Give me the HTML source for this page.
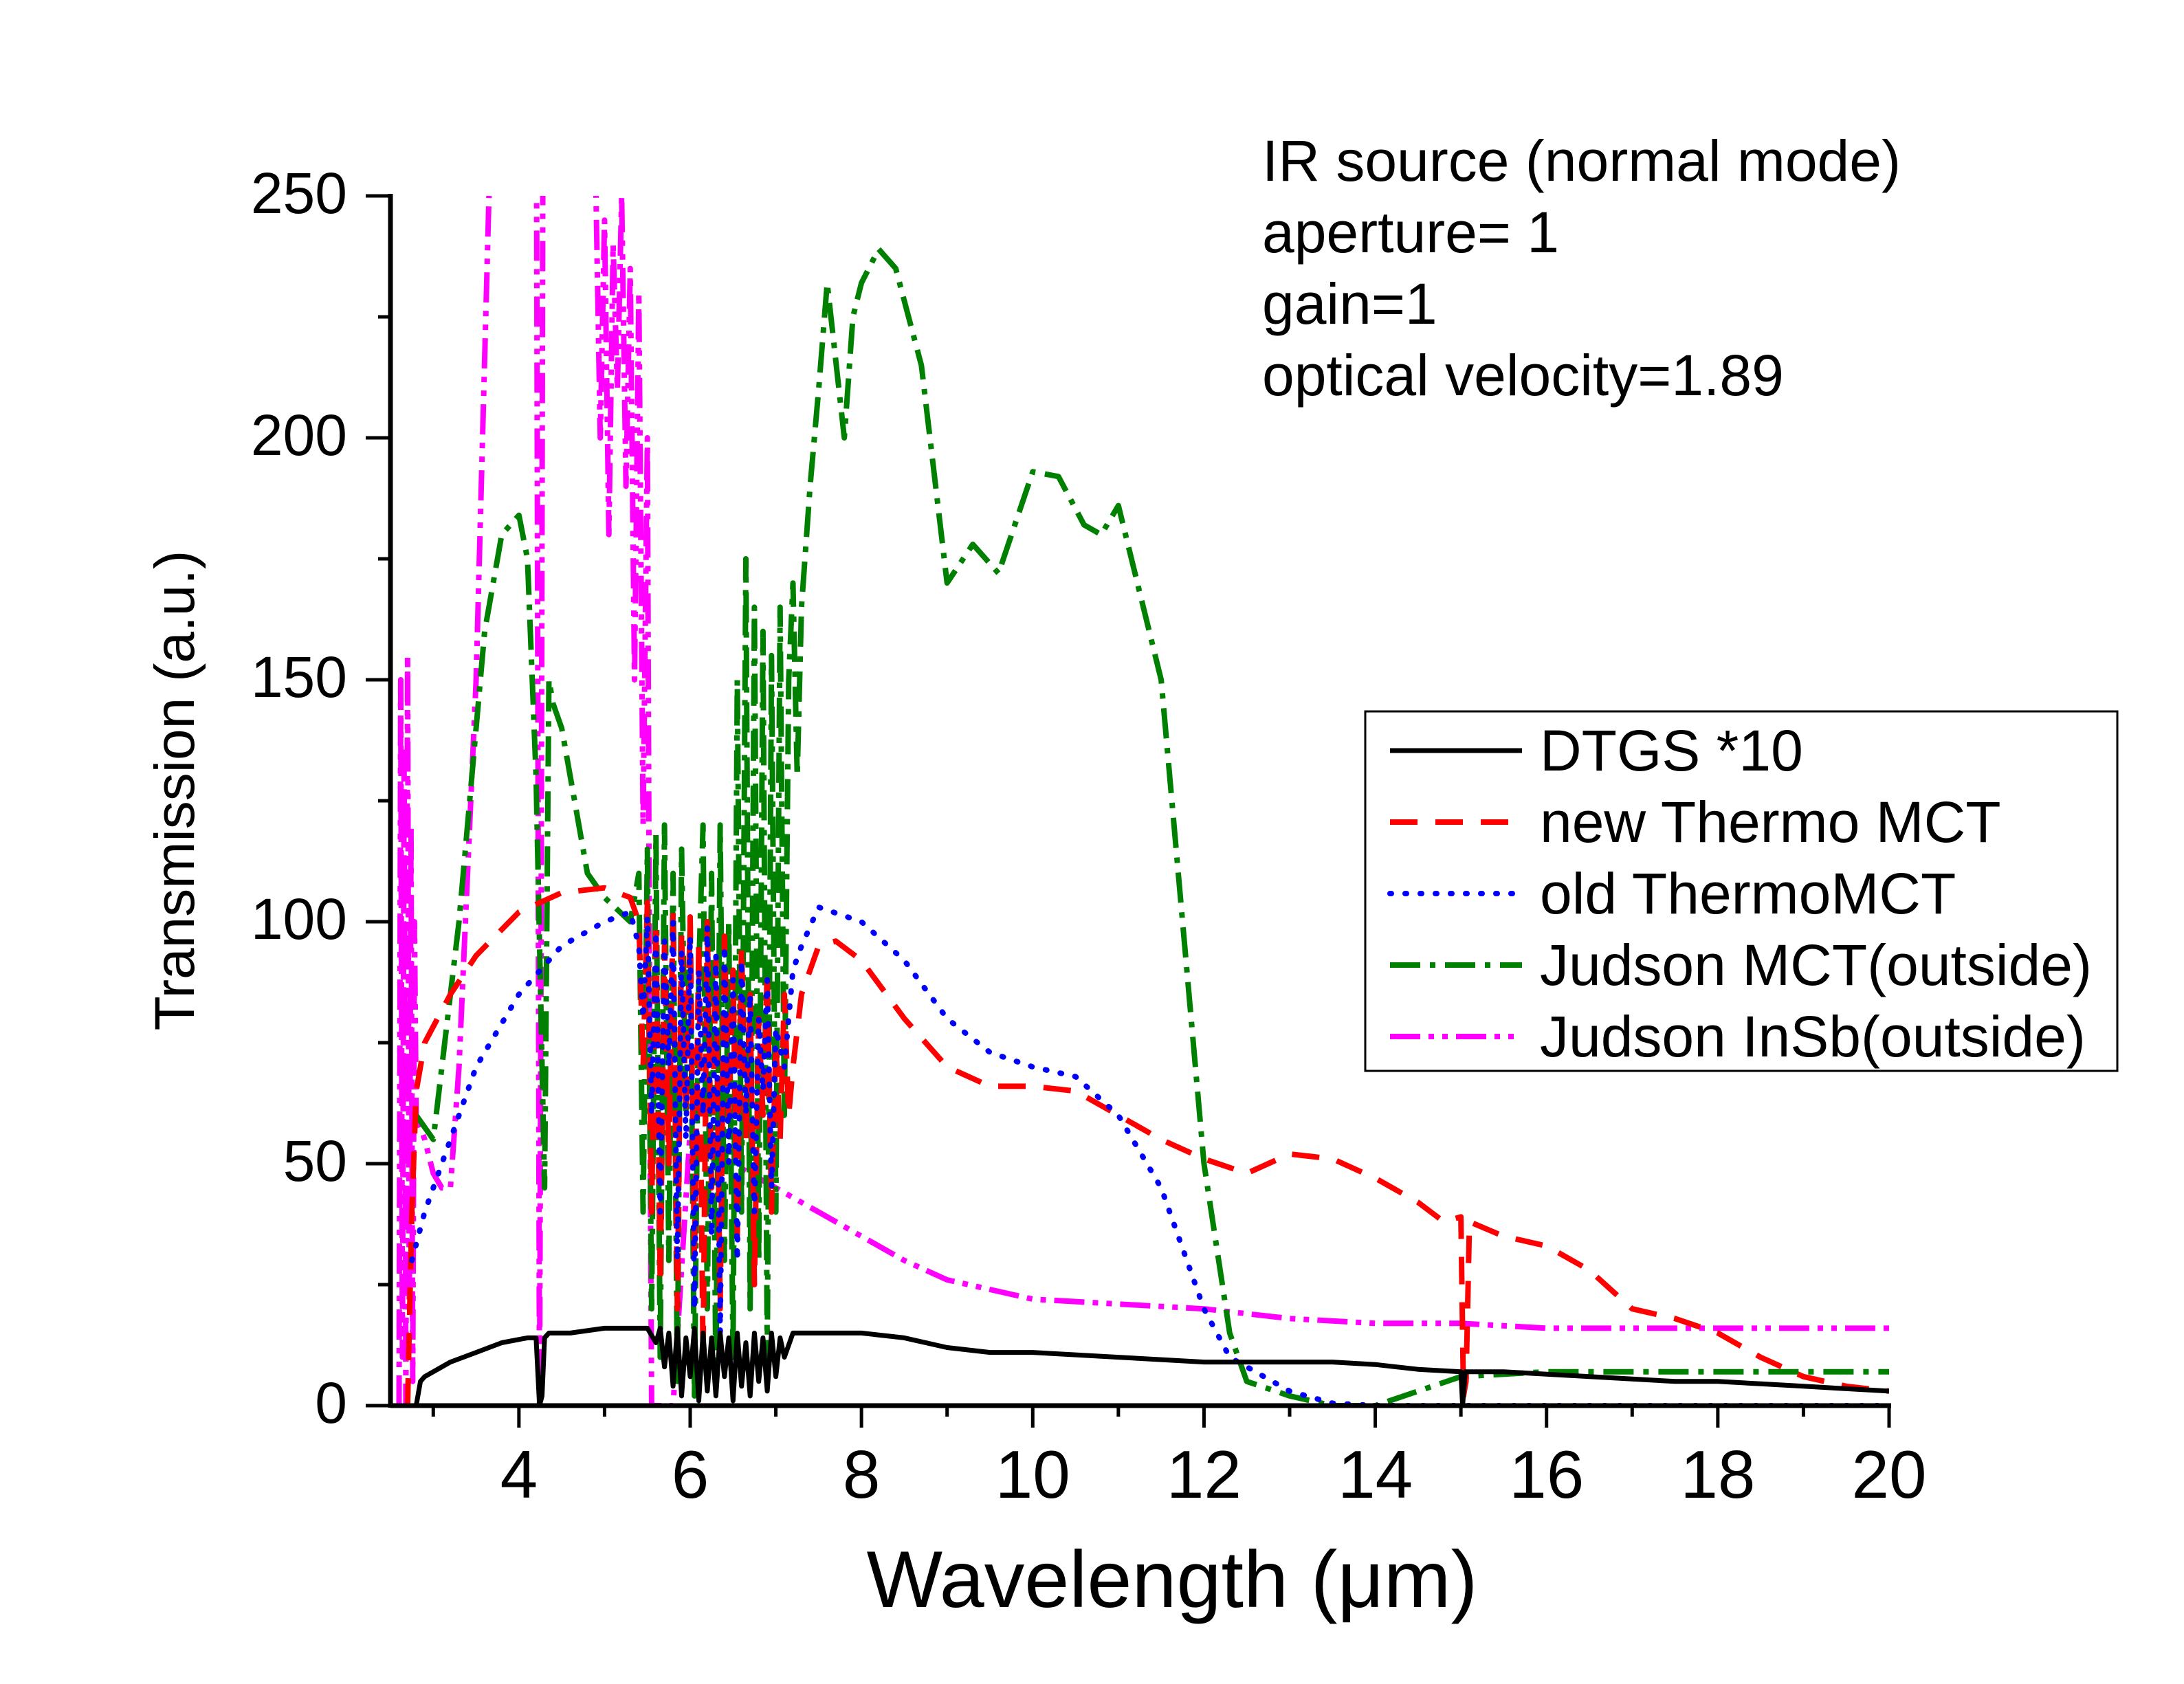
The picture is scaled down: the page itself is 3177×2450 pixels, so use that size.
<!DOCTYPE html>
<html><head><meta charset="utf-8"><style>
html,body{margin:0;padding:0;background:#fff;}
svg{display:block;font-family:"Liberation Sans",Arial,sans-serif;}
</style></head><body>
<svg id="chart" width="3177" height="2450" viewBox="0 0 3177 2450" xmlns="http://www.w3.org/2000/svg">
<defs><clipPath id="plotclip"><rect x="568" y="285" width="2180" height="1762"/></clipPath></defs>
<g id="series" clip-path="url(#plotclip)"></g>
<g id="axes"></g>
<text x="1705" y="2338" font-size="117" text-anchor="middle">Wavelength (μm)</text>
<text transform="translate(282,1150) rotate(-90)" font-size="82" text-anchor="middle">Transmission (a.u.)</text>
<g font-size="84">
<text x="1836" y="263">IR source (normal mode)</text>
<text x="1836" y="367">aperture= 1</text>
<text x="1836" y="471">gain=1</text>
<text x="1836" y="575">optical velocity=1.89</text>
</g>
<g id="legend">
<rect x="1986" y="1035" width="1094" height="523" fill="#fff" stroke="#000" stroke-width="3"/>
</g>
</svg>
<script>
const xMin=2.5,xMax=20,yMin=0,yMax=250;
const X0=568,X1=2748,Y0=2045,Y1=285;
function sx(v){return X0+(v-xMin)/(xMax-xMin)*(X1-X0);}
function sy(v){return Y0-(v-yMin)/(yMax-yMin)*(Y0-Y1);}
const NS="http://www.w3.org/2000/svg";

const seriesNames=["DTGS *10","new Thermo MCT","old ThermoMCT","Judson MCT(outside)","Judson InSb(outside)"];
const dtgsX=[2.8,2.85,2.9,3.2,3.5,3.8,4.1,4.2,4.24,4.27,4.3,4.35,4.6,5.0,5.5,5.6,5.65,5.7,5.75,5.8,5.85,5.9,5.95,6.0,6.05,6.1,6.15,6.2,6.25,6.3,6.35,6.4,6.45,6.5,6.55,6.6,6.65,6.7,6.75,6.8,6.85,6.9,6.95,7.0,7.05,7.1,7.2,7.5,8.0,8.5,9.0,9.5,10,10.5,11,11.5,12,12.5,13,13.5,14,14.5,15,15.02,15.05,15.1,15.5,16,16.5,17,17.5,18,18.5,19,19.5,20];
const dtgsY=[0,5,6,9,11,13,14,14,0,2,14,15,15,16,16,13,16,8,15,4,16,2,14,6,16,1,15,3,14,2,15,6,14,1,15,4,13,2,15,5,14,3,15,6,14,10,15,15,15,14,12,11,11,10.5,10,9.5,9,9,9,9,8.5,7.5,7,0,7,7,7,6.5,6,5.5,5,5,4.5,4,3.5,3];
const newX=[2.7,2.75,2.8,2.9,3.2,3.5,4.0,4.5,5.0,5.3,5.4,5.45,5.5,5.55,5.6,5.65,5.7,5.75,5.8,5.85,5.9,5.95,6.0,6.05,6.1,6.15,6.2,6.25,6.3,6.35,6.4,6.45,6.5,6.55,6.6,6.65,6.7,6.75,6.8,6.85,6.9,6.95,7.0,7.05,7.1,7.15,7.2,7.3,7.5,7.7,8.0,8.5,9.0,9.5,10,10.5,11,11.5,12,12.5,13,13.5,14,14.5,14.8,15.0,15.03,15.06,15.1,15.5,16,16.5,17,17.5,18,18.5,19,19.5,20];
const newY=[0,40,65,75,85,93,102,106,107,105,100,70,104,40,100,25,95,50,102,20,98,60,101,30,96,10,100,45,92,20,97,60,90,35,95,55,85,25,80,60,90,40,75,55,85,60,70,85,95,96,92,80,70,66,66,65,60,55,51,48,52,51,47,42,38,39,2,5,38,35,33,28,20,18,15,10,6,4,3];
const oldX=[2.75,2.9,3.2,3.5,4.0,4.5,5.0,5.3,5.4,5.45,5.5,5.55,5.6,5.65,5.7,5.75,5.8,5.85,5.9,5.95,6.0,6.05,6.1,6.15,6.2,6.25,6.3,6.35,6.4,6.45,6.5,6.55,6.6,6.65,6.7,6.75,6.8,6.85,6.9,6.95,7.0,7.1,7.2,7.3,7.5,8.0,8.5,9.0,9.5,10,10.5,11,11.5,12,12.3,13,13.5,14,20];
const oldY=[30,40,55,70,85,95,100,102,95,80,101,60,98,40,96,70,100,30,94,55,97,20,90,60,99,35,93,15,95,50,88,30,92,60,85,40,80,65,88,45,78,70,90,95,103,100,92,80,73,70,68,60,45,20,10,3,0.5,0,0];
const judMX=[2.8,3.0,3.3,3.6,3.8,4.0,4.1,4.2,4.3,4.35,4.4,4.5,4.8,5.0,5.3,5.4,5.45,5.5,5.55,5.6,5.65,5.7,5.75,5.8,5.85,5.9,5.95,6.0,6.05,6.1,6.15,6.2,6.25,6.3,6.35,6.4,6.45,6.5,6.55,6.6,6.65,6.7,6.75,6.8,6.85,6.9,6.95,7.0,7.05,7.1,7.15,7.2,7.25,7.3,7.4,7.5,7.6,7.8,7.9,8.0,8.2,8.4,8.7,9.0,9.3,9.6,10.0,10.3,10.6,10.8,11.0,11.5,12.0,12.3,12.5,13.0,13.5,14.0,14.5,15.0,16.0,20.0];
const judMY=[60,55,100,160,180,184,175,130,45,150,145,140,110,105,100,110,40,115,20,118,10,120,30,110,5,115,60,100,2,90,120,20,110,5,120,30,100,10,150,40,175,20,165,30,160,10,155,40,165,60,150,170,130,165,190,210,232,200,225,232,239,235,215,170,178,172,193,192,182,180,186,150,50,15,5,2,0,0,3,6,7,7];
const insbX=[2.6,2.62,2.64,2.66,2.68,2.7,2.72,2.74,2.76,2.78,2.8,2.9,3.0,3.1,3.2,3.3,3.5,3.65,3.8,4.2,4.24,4.26,4.28,4.32,4.4,4.9,4.95,5.0,5.05,5.1,5.15,5.2,5.25,5.3,5.35,5.4,5.45,5.5,5.53,5.55,5.6,5.8,6.0,6.5,7.0,7.5,8.0,8.5,9,9.5,10,11,12,13,14,15,16,17,18,19,20];
const insbY=[0,150,10,135,0,155,20,120,5,100,60,55,48,45,45,70,150,250,300,300,0,100,260,300,300,250,200,245,180,240,210,250,190,235,150,230,120,200,60,0,0,0,57,50,45,40,35,30,26,24,22,21,20,18,17,17,16,16,16,16,16];

const styles=[
 {x:dtgsX,y:dtgsY,c:"#000",w:7,d:"",name:"dtgs-line"},
 {x:newX,y:newY,c:"#ff0000",w:8,d:"40 26",name:"new-thermo-mct-line"},
 {x:oldX,y:oldY,c:"#0000ff",w:8,d:"2 20",name:"old-thermo-mct-line"},
 {x:judMX,y:judMY,c:"#008000",w:8,d:"44 14 8 14",name:"judson-mct-line"},
 {x:insbX,y:insbY,c:"#ff00ff",w:8,d:"44 12 8 12 8 12",name:"judson-insb-line"}
];
const g=document.getElementById('series');
[4,3,1,2,0].forEach(i=>{
 const s=styles[i];
 const p=document.createElementNS(NS,'path');
 let d="";
 for(let k=0;k<s.x.length;k++){d+=(k?"L":"M")+sx(s.x[k]).toFixed(1)+","+sy(s.y[k]).toFixed(1);}
 p.setAttribute('d',d);p.setAttribute('fill','none');p.setAttribute('stroke',s.c);
 p.setAttribute('stroke-width',s.w);p.setAttribute('stroke-linejoin','round');
 p.setAttribute('stroke-linecap',s.d==="2 20"?'round':'butt');
 if(s.d)p.setAttribute('stroke-dasharray',s.d);
 
 
 g.appendChild(p);
});

const xTicks=[4,6,8,10,12,14,16,18,20];
const yTicks=[0,50,100,150,200,250];
const ax=document.getElementById('axes');
function line(x1,y1,x2,y2,w,name){const l=document.createElementNS(NS,'line');l.setAttribute('x1',x1);l.setAttribute('y1',y1);l.setAttribute('x2',x2);l.setAttribute('y2',y2);l.setAttribute('stroke','#000');l.setAttribute('stroke-width',w);
 
 
 ax.appendChild(l);}
function text(x,y,t,anchor,size,name){const e=document.createElementNS(NS,'text');e.setAttribute('x',x);e.setAttribute('y',y);e.setAttribute('font-size',size);e.setAttribute('text-anchor',anchor);e.textContent=t;
 
 
 ax.appendChild(e);}
line(X0,Y0,X1+3,Y0,7,'x-axis-line');
line(X0,Y0+3,X0,Y1-3,7,'y-axis-line');
for(let v=3;v<=20;v++){const major=v%2===0;line(sx(v),Y0,sx(v),Y0+(major?32:16),5,major?'x-major-tick':'x-minor-tick');}
xTicks.forEach(v=>text(sx(v),2179,String(v),'middle',98,'x-tick-label'));
for(let v=0;v<=250;v+=25){const major=v%50===0;line(X0,sy(v),X0-(major?36:18),sy(v),5,major?'y-major-tick':'y-minor-tick');}
yTicks.forEach(v=>text(505,sy(v)+25,String(v),'end',84,'y-tick-label'));

const lg=document.getElementById('legend');
const rowsY=[1092,1196,1300,1404,1508];
[0,1,2,3,4].forEach(i=>{
 const s=styles[i];
 const l=document.createElementNS(NS,'line');
 l.setAttribute('x1',2022);l.setAttribute('x2',2214);l.setAttribute('y1',rowsY[i]);l.setAttribute('y2',rowsY[i]);
 l.setAttribute('stroke',s.c);l.setAttribute('stroke-width',s.w);
 l.setAttribute('stroke-linecap',s.d==="2 20"?'round':'butt');
 if(s.d)l.setAttribute('stroke-dasharray',s.d);
 
 
 lg.appendChild(l);
 const t=document.createElementNS(NS,'text');
 t.setAttribute('x',2240);t.setAttribute('y',rowsY[i]+29);t.setAttribute('font-size','84');
 t.textContent=seriesNames[i];
 
 
 lg.appendChild(t);
});
</script>
</body></html>
